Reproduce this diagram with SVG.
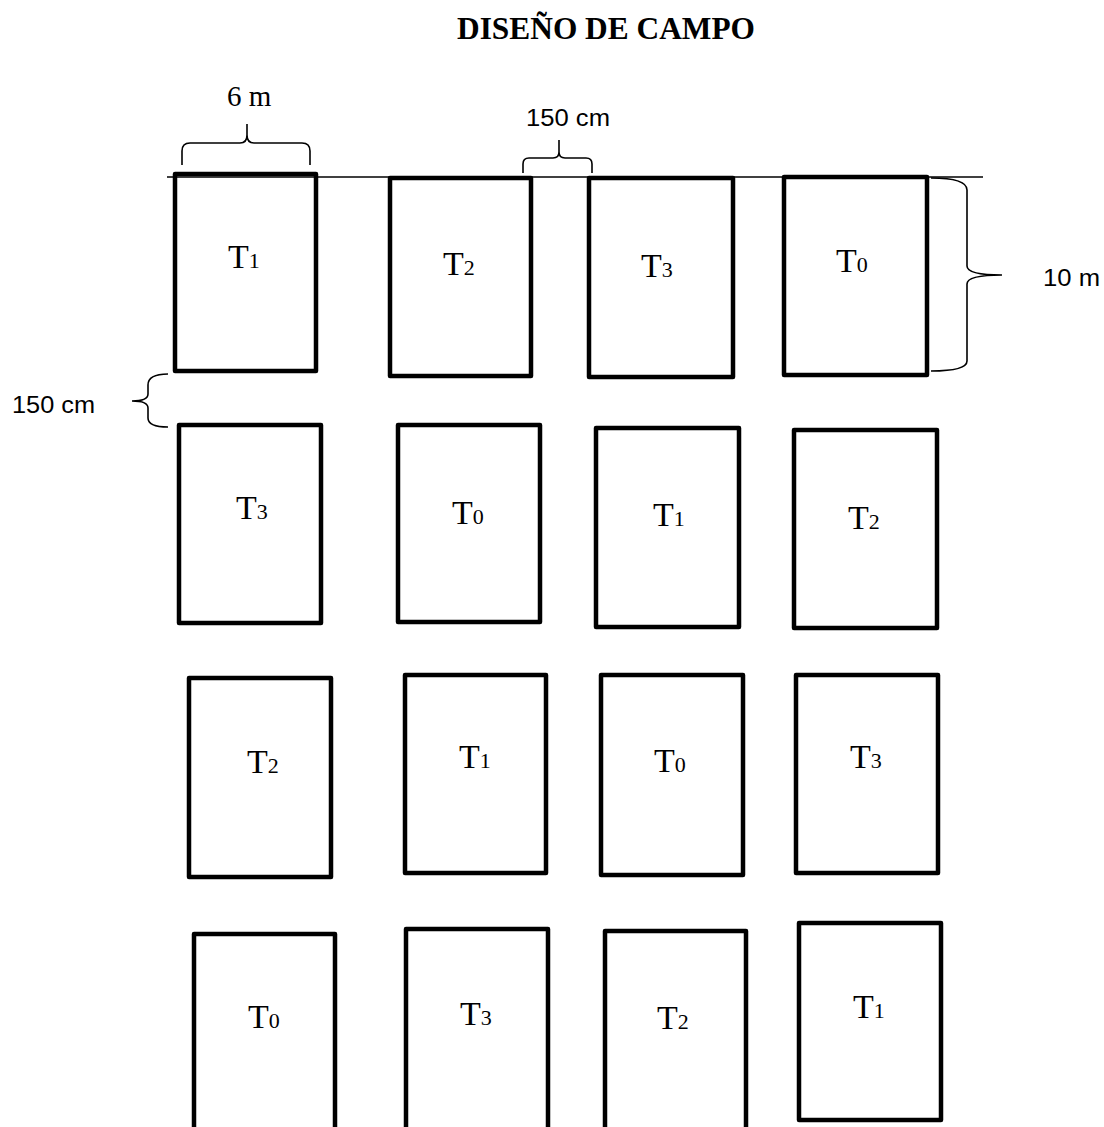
<svg xmlns="http://www.w3.org/2000/svg" width="1104" height="1127" viewBox="0 0 1104 1127">
<style>
.plot{fill:none;stroke:#000;stroke-width:4.5;stroke-linejoin:round}
.lbl{font-family:"Liberation Serif","Times New Roman",serif;font-size:34px;fill:#000}
.sub{font-size:22px}
.dim{font-family:"Liberation Sans",Arial,sans-serif;font-size:23px;fill:#000}
.serifdim{font-family:"Liberation Serif","Times New Roman",serif;font-size:29px;fill:#000}
.brace{fill:none;stroke:#000;stroke-width:1.6}
</style>
<rect width="1104" height="1127" fill="#fff"/>
<text x="457" y="39" font-family="'Liberation Serif','Times New Roman',serif" font-weight="bold" font-size="31" textLength="298" lengthAdjust="spacingAndGlyphs">DISEÑO DE CAMPO</text>
<g id="connectors">
<line x1="167" y1="177" x2="983" y2="177" stroke="#000" stroke-width="1.6"/>
<path class="brace" d="M182,165 V151 Q182,143 190,143 H240 Q247,143 247,135 V124 M247,135 Q247,143 254,143 H302 Q310,143 310,151 V165"/>
<path class="brace" d="M523,173 V164 Q523,158 529,158 H553 Q559,158 559,152 V140 M559,152 Q559,158 565,158 H586 Q592,158 592,164 V173"/>
<path class="brace" d="M931,178 Q967,178 967,190 V266 Q967,275 1002,275 Q967,275 967,284 V361 Q967,371 931,371"/>
<path class="brace" d="M168,374 Q148,374 148,385 V394 Q148,401 132,401 Q148,401 148,408 V418 Q148,427 168,427"/>
</g>
<text class="serifdim" x="227" y="106">6 m</text>
<text class="dim" x="526" y="126" textLength="84" lengthAdjust="spacingAndGlyphs">150 cm</text>
<text class="dim" x="1043" y="286" textLength="57" lengthAdjust="spacingAndGlyphs">10 m</text>
<text class="dim" x="12" y="413" textLength="83" lengthAdjust="spacingAndGlyphs">150 cm</text>
<g id="r1c1"><rect class="plot" x="175" y="174" width="141" height="197"/><text class="lbl" x="228" y="268">T<tspan class="sub">1</tspan></text></g>
<g id="r1c2"><rect class="plot" x="390" y="178" width="141" height="198"/><text class="lbl" x="443" y="275">T<tspan class="sub">2</tspan></text></g>
<g id="r1c3"><rect class="plot" x="589" y="178" width="144" height="199"/><text class="lbl" x="641" y="277">T<tspan class="sub">3</tspan></text></g>
<g id="r1c4"><rect class="plot" x="784" y="177" width="143" height="198"/><text class="lbl" x="836" y="272">T<tspan class="sub">0</tspan></text></g>
<g id="r2c1"><rect class="plot" x="179" y="425" width="142" height="198"/><text class="lbl" x="236" y="519">T<tspan class="sub">3</tspan></text></g>
<g id="r2c2"><rect class="plot" x="398" y="425" width="142" height="197"/><text class="lbl" x="452" y="524">T<tspan class="sub">0</tspan></text></g>
<g id="r2c3"><rect class="plot" x="596" y="428" width="143" height="199"/><text class="lbl" x="653" y="526">T<tspan class="sub">1</tspan></text></g>
<g id="r2c4"><rect class="plot" x="794" y="430" width="143" height="198"/><text class="lbl" x="848" y="529">T<tspan class="sub">2</tspan></text></g>
<g id="r3c1"><rect class="plot" x="189" y="678" width="142" height="199"/><text class="lbl" x="247" y="773">T<tspan class="sub">2</tspan></text></g>
<g id="r3c2"><rect class="plot" x="405" y="675" width="141" height="198"/><text class="lbl" x="459" y="768">T<tspan class="sub">1</tspan></text></g>
<g id="r3c3"><rect class="plot" x="601" y="675" width="142" height="200"/><text class="lbl" x="654" y="772">T<tspan class="sub">0</tspan></text></g>
<g id="r3c4"><rect class="plot" x="796" y="675" width="142" height="198"/><text class="lbl" x="850" y="768">T<tspan class="sub">3</tspan></text></g>
<g id="r4c1"><rect class="plot" x="194" y="934" width="141" height="200"/><text class="lbl" x="248" y="1028">T<tspan class="sub">0</tspan></text></g>
<g id="r4c2"><rect class="plot" x="406" y="929" width="142" height="205"/><text class="lbl" x="460" y="1025">T<tspan class="sub">3</tspan></text></g>
<g id="r4c3"><rect class="plot" x="605" y="931" width="141" height="203"/><text class="lbl" x="657" y="1029">T<tspan class="sub">2</tspan></text></g>
<g id="r4c4"><rect class="plot" x="799" y="923" width="142" height="197"/><text class="lbl" x="853" y="1018">T<tspan class="sub">1</tspan></text></g>
</svg>
